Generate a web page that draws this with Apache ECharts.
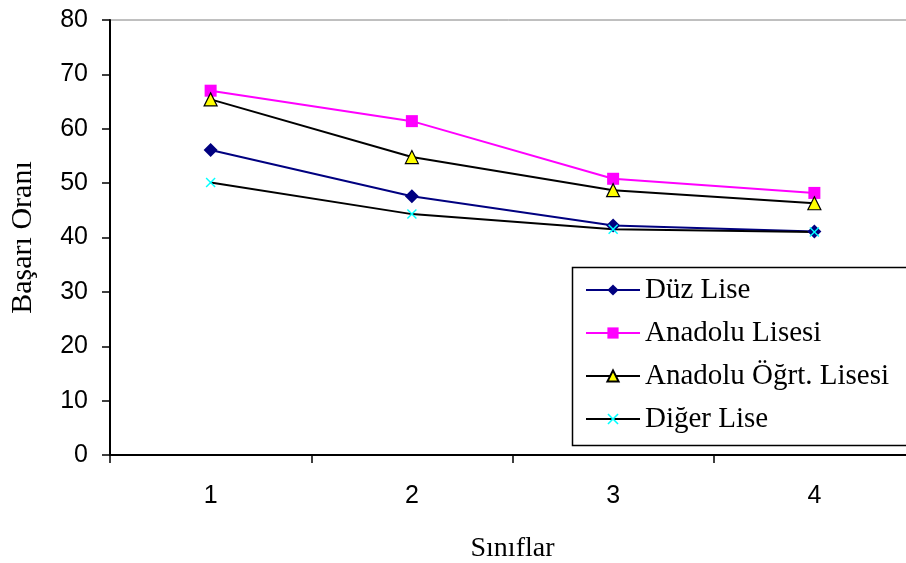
<!DOCTYPE html>
<html>
<head>
<meta charset="utf-8">
<script src="https://cdn.jsdelivr.net/npm/echarts@6/dist/echarts.min.js"></script>
<style>
html,body{margin:0;padding:0;background:#fff;}
#c{width:906px;height:563px;}
</style>
</head>
<body>
<div id="c"></div>
<script>
var categories = ['1', '2', '3', '4'];
var duzLise = [56.1, 47.6, 42.2, 41.1];
var anadoluLisesi = [67.0, 61.4, 50.8, 48.2];
var anadoluOgrt = [65.4, 54.8, 48.7, 46.3];
var digerLise = [50.1, 44.3, 41.5, 41.0];
var seriesNames = ['Düz Lise', 'Anadolu Lisesi', 'Anadolu Öğrt. Lisesi', 'Diğer Lise'];

var crossPath = 'path://M0,1L1,0L5,4L9,0L10,1L6,5L10,9L9,10L5,6L1,10L0,9L4,5Z';

var chart = echarts.init(document.getElementById('c'));
chart.setOption({
  animation: false,
  backgroundColor: '#fff',
  grid: {
    left: 110, top: 20, width: 805, height: 435,
    containLabel: false, outerBoundsMode: 'none',
    show: true, borderColor: '#808080', borderWidth: 1
  },
  legend: {
    orient: 'vertical',
    left: 570, top: 265,
    padding: [10, 7, 9, 15],
    itemWidth: 54, itemHeight: 14, itemGap: 13, itemTextGap: 9,
    textStyle: { fontFamily: 'Liberation Serif', fontSize: 29, color: '#000', lineHeight: 30 },
    data: seriesNames
  },
  graphic: [{
    type: 'rect', left: 570, top: 265, z: 100, silent: true,
    shape: { width: 335, height: 178 },
    style: { fill: 'none', stroke: '#000', lineWidth: 1.5 }
  }],
  xAxis: {
    type: 'category',
    data: categories,
    boundaryGap: true,
    name: 'Sınıflar',
    nameLocation: 'middle',
    nameGap: 80,
    nameTextStyle: { fontFamily: 'Liberation Serif', fontSize: 28, color: '#000' },
    axisLine: { lineStyle: { color: '#000', width: 2 } },
    axisTick: { show: true, length: 8, alignWithLabel: false, lineStyle: { color: '#000', width: 1.5 } },
    axisLabel: { margin: 29, fontFamily: 'Liberation Sans', fontSize: 25, color: '#000' },
    splitLine: { show: false }
  },
  yAxis: {
    type: 'value',
    min: 0, max: 80, interval: 10,
    name: 'Başarı Oranı',
    nameLocation: 'middle',
    nameGap: 72,
    nameTextStyle: { fontFamily: 'Liberation Serif', fontSize: 30, color: '#000' },
    axisLine: { show: true, lineStyle: { color: '#000', width: 2 } },
    axisTick: { show: true, length: 8, lineStyle: { color: '#000', width: 1.5 } },
    axisLabel: { margin: 22, fontFamily: 'Liberation Sans', fontSize: 25, color: '#000' },
    splitLine: { show: false }
  },
  series: [
    {
      name: seriesNames[0], type: 'line', data: duzLise,
      symbol: 'diamond', symbolSize: 14,
      lineStyle: { color: '#000080', width: 2 },
      itemStyle: { color: '#000080' }
    },
    {
      name: seriesNames[1], type: 'line', data: anadoluLisesi,
      symbol: 'rect', symbolSize: 12,
      lineStyle: { color: '#ff00ff', width: 2 },
      itemStyle: { color: '#ff00ff' }
    },
    {
      name: seriesNames[2], type: 'line', data: anadoluOgrt,
      symbol: 'triangle', symbolSize: 13,
      lineStyle: { color: '#000', width: 2 },
      itemStyle: { color: '#ffff00', borderColor: '#000', borderWidth: 1.2 }
    },
    {
      name: seriesNames[3], type: 'line', data: digerLise,
      symbol: crossPath, symbolSize: 10,
      lineStyle: { color: '#000', width: 2 },
      itemStyle: { color: '#00ffff' }
    }
  ]
});
</script>
</body>
</html>
